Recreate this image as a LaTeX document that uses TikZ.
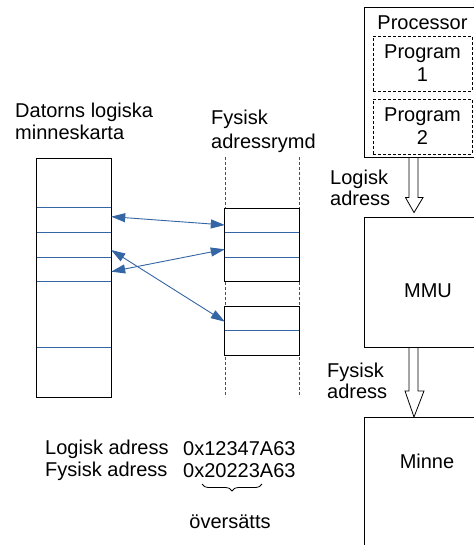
\documentclass[tikz,border=0pt]{standalone}
\usepackage{fontspec}
\setmainfont{Liberation Sans}
\usetikzlibrary{arrows.meta,decorations.pathreplacing,calc}
\definecolor{mapblue}{RGB}{52,101,164}
\definecolor{dashgray}{RGB}{80,80,80}
\begin{document}
\begin{tikzpicture}[x=1pt,y=-1pt,
  txt/.style={font=\fontsize{20}{23}\selectfont, inner sep=0pt},
  blk/.style={draw=black, line width=0.9pt, inner sep=0pt, minimum width=116pt},
  progbox/.style={draw=black, line width=0.8pt, dash pattern=on 3pt off 2pt, inner sep=0pt,
     minimum width=99pt, minimum height=55pt, align=center, font=\fontsize{20}{23}\selectfont},
  seg/.style={inner sep=0pt, minimum width=74pt},
  sepline/.style={draw=mapblue, line width=0.9pt},
  outline/.style={draw=black, line width=0.9pt},
  physdash/.style={draw=dashgray, line width=0.8pt, dash pattern=on 3pt off 2pt},
  maparrow/.style={draw=mapblue, line width=0.9pt, {Triangle[length=14pt,width=9pt]}-{Triangle[length=14pt,width=9pt]}},
  hollow/.style={draw=black, line width=0.8pt, line join=miter}
]
\useasboundingbox (0,0) rectangle (473,545);

% ---- right column ----
\node[blk, minimum height=150pt] (proc) at (422.5,82) {};
\node[txt] (proctxt) at (422.5,23) {Processor};
\node[progbox] (prog1) at (422.5,63.5) {Program\\1};
\node[progbox] (prog2) at (422.5,126.5) {Program\\2};

\node[blk, minimum height=130pt] (mmu) at (422.5,282) {};
\node[txt] (mmutxt) at (428,291) {MMU};

\node[blk, minimum height=160pt, anchor=north] (minne) at (422.5,417) {};
\node[txt] (minnetxt) at (427,461) {Minne};

% hollow arrows
\draw[hollow] ([xshift=-13.5pt]proc.south) -- ([xshift=-13.5pt,yshift=19pt]mmu.north)
  -- ([xshift=-17pt,yshift=19pt]mmu.north) -- ([xshift=-8.5pt,yshift=4pt]mmu.north)
  -- ([xshift=0.5pt,yshift=19pt]mmu.north) -- ([xshift=-4.5pt,yshift=19pt]mmu.north)
  -- ([xshift=-4.5pt]proc.south);
\draw[hollow] ([xshift=-13.5pt]mmu.south) -- ([xshift=-13.5pt,yshift=26pt]minne.north)
  -- ([xshift=-17.5pt,yshift=26pt]minne.north) -- ([xshift=-8.5pt]minne.north)
  -- ([xshift=1.5pt,yshift=26pt]minne.north) -- ([xshift=-4.5pt,yshift=26pt]minne.north)
  -- ([xshift=-4.5pt]mmu.south);

\node[txt, align=left, anchor=north west] (lablog) at (330,170) {Logisk\\[-2pt]adress};
\node[txt, align=left, anchor=north west] (labfys) at (327,363) {Fysisk\\[-2pt]adress};

% ---- left memory map ----
\node[txt, align=left, anchor=north west] (maptitle) at (15,103) {Datorns logiska\\[-1pt]minneskarta};
\node[seg, minimum height=49pt]   (L1) at (74,183.5) {};
\node[seg, minimum height=24.7pt] (L2) at (74,220.35) {};
\node[seg, minimum height=24.6pt] (L3) at (74,245) {};
\node[seg, minimum height=24.7pt] (L4) at (74,269.65) {};
\node[seg, minimum height=65.7pt] (L5) at (74,314.85) {};
\node[seg, minimum height=49.3pt] (L6) at (74,372.35) {};
\draw[outline] (L1.north west) rectangle (L6.south east);
\foreach \s in {L2,L3,L4,L5,L6} \draw[sepline] (\s.north west) -- (\s.north east);

% ---- physical address space ----
\node[txt, align=left, anchor=north west] (phystitle) at (211,110) {Fysisk\\[1pt]adressrymd};
\node[seg, minimum height=24.4pt] (P1) at (262,220.5) {};
\node[seg, minimum height=24.6pt] (P2) at (262,245) {};
\node[seg, minimum height=24.4pt] (P3) at (262,269.5) {};
\node[seg, minimum height=24.3pt] (Q1) at (262,318.85) {};
\node[seg, minimum height=24.7pt] (Q2) at (262,343.35) {};
\coordinate (dtl) at (225,157);
\coordinate (dbl) at (225,397);
\coordinate (dtr) at (299,157);
\coordinate (dbr) at (299,397);
\draw[physdash] (dtl) -- (dbl);
\draw[physdash] (dtr) -- (dbr);
\draw[outline, fill=white] (P1.north west) rectangle (P3.south east);
\draw[outline, fill=white] (Q1.north west) rectangle (Q2.south east);
\draw[sepline] (P2.north west) -- (P2.north east);
\draw[sepline] (P3.north west) -- (P3.north east);
\draw[sepline] (Q2.north west) -- (Q2.north east);

% mapping arrows
\draw[maparrow] ([yshift=3.7pt]L2.east) -- ([yshift=-4.5pt]P1.west);
\draw[maparrow] ([yshift=-2pt]L4.east) -- ([yshift=-4.3pt]P2.west);
\draw[maparrow] ([yshift=-5pt]L3.east) -- ([yshift=-2.8pt]Q1.west);

% ---- address example ----
\node[txt, anchor=west] (logaddr) at (45,449) {Logisk adress};
\node[txt, anchor=west] (logval) at (183,449) {0x12347A63};
\node[txt, anchor=west] (fysaddr) at (45,471) {Fysisk adress};
\node[txt, anchor=west] (fysval) at (183,471) {0x20223A63};
\coordinate (bl) at (202,484);
\coordinate (br) at (262,484);
\draw[draw=black, line width=0.8pt, decorate, decoration={brace, mirror, amplitude=7pt}] (bl) -- (br);
\node[txt] (oversatts) at (230,522) {översätts};
\end{tikzpicture}
\end{document}
